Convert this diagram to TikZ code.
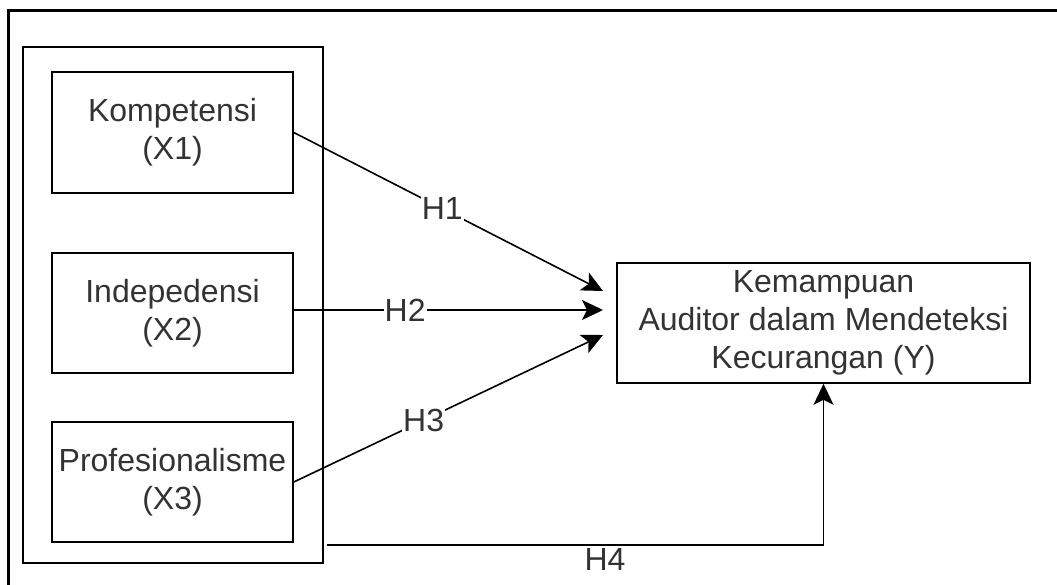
\documentclass[tikz,border=0pt]{standalone}
\usepackage{fontspec}
\setmainfont{Liberation Sans}
\usetikzlibrary{arrows.meta}
\definecolor{txt}{HTML}{333333}
\tikzset{
  box/.style={draw=black, line width=1.6pt, inner sep=0pt, align=center, text=txt,
    font=\fontsize{32}{38}\selectfont},
  arr/.style={draw=black, line width=1.6pt, -{Stealth[length=21pt,width=20pt,inset=5pt]}},
  lbl/.style={fill=white, inner sep=1pt, text=txt, font=\fontsize{32}{38}\selectfont}
}
\begin{document}
\begin{tikzpicture}[x=1pt,y=-1pt]
\useasboundingbox (0,0) rectangle (1057,584);
\coordinate (ftl) at (8,10);
\coordinate (ftr) at (1060,10);
\coordinate (fbl) at (8,590);
\draw[line width=3pt] (fbl) -- (ftl) -- (ftr);
\node[box, minimum width=300pt, minimum height=516pt] (cont) at (173,305) {};
\node[box, minimum width=241pt, minimum height=121pt] (x1) at (172.5,132.5) {Kompetensi\\(X1)};
\node[box, minimum width=241pt, minimum height=120pt] (x2) at (172.5,313) {Indepedensi\\(X2)};
\node[box, minimum width=241pt, minimum height=120pt] (x3) at (172.5,482) {Profesionalisme\\(X3)};
\node[box, minimum width=413pt, minimum height=120pt] (y) at (823.5,323) {Kemampuan\\Auditor dalam Mendeteksi\\Kecurangan (Y)};
\coordinate (t1) at (603,291);
\coordinate (t2) at (603,310);
\coordinate (t3) at (603,335);
\coordinate (h4s) at (327,545);
\draw[arr] (x1.east) -- node[lbl, pos=0.48] {H1} (t1);
\draw[arr] ([yshift=3pt]x2.east) -- node[lbl, pos=0.36] {H2} (t2);
\draw[arr] (x3.east) -- node[lbl, pos=0.42] {H3} (t3);
\draw[arr] (h4s) -| (y.south);
\node[lbl, fill=none] (h4) at (605,559) {H4};
\end{tikzpicture}
\end{document}
